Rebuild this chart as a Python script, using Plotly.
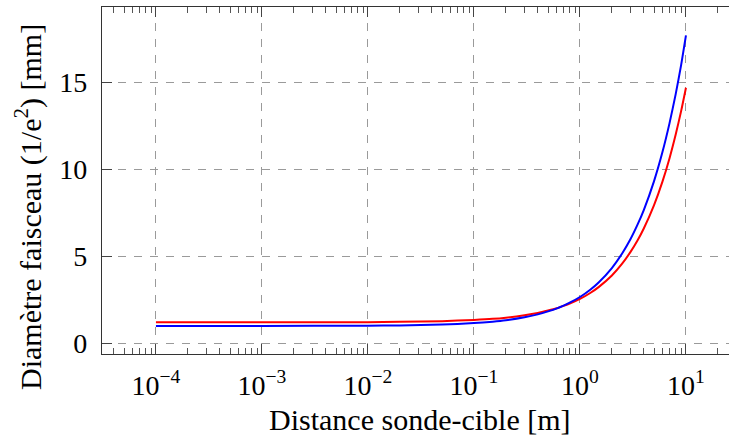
import plotly.graph_objects as go

# Distance sonde-cible [m]
distance = [1e-4, 1e-3, 1e-2, 0.02, 0.05, 0.1, 0.15, 0.2, 0.3, 0.4, 0.5, 0.6, 0.7, 0.8,
            1.0, 1.25, 1.5, 2.0, 2.5, 3.0, 3.5, 4.0, 5.0, 6.0, 7.0, 8.0, 9.0, 10.0]
# Beam diameter (1/e^2) [mm]
diam_blue = [0.98, 0.98, 1.00, 1.01, 1.06, 1.15, 1.23, 1.31, 1.48, 1.65, 1.82, 1.98, 2.15, 2.32,
             2.65, 3.07, 3.49, 4.32, 5.16, 5.99, 6.83, 7.66, 9.33, 11.00, 12.67, 14.34, 16.01, 17.72]
diam_red = [1.19, 1.19, 1.20, 1.22, 1.26, 1.33, 1.39, 1.46, 1.60, 1.73, 1.87, 2.00, 2.14, 2.27,
            2.54, 2.88, 3.22, 3.89, 4.57, 5.25, 5.92, 6.60, 7.95, 9.30, 10.65, 12.01, 13.36, 14.71]

x_tickvals = [1e-4, 1e-3, 1e-2, 1e-1, 1, 10]
x_ticktext = ["10<sup>\u22124</sup>", "10<sup>\u22123</sup>", "10<sup>\u22122</sup>",
              "10<sup>\u22121</sup>", "10<sup>0</sup>", "10<sup>1</sup>"]
y_tickvals = [0, 5, 10, 15]

FONT = "'Liberation Serif', 'Times New Roman', 'DejaVu Serif', serif"

fig = go.Figure()
fig.add_trace(go.Scatter(x=distance, y=diam_red, mode="lines",
                         line=dict(color="#ff0000", width=2, shape="spline", smoothing=0.6),
                         showlegend=False))
fig.add_trace(go.Scatter(x=distance, y=diam_blue, mode="lines",
                         line=dict(color="#0000ff", width=2, shape="spline", smoothing=0.6),
                         showlegend=False))

fig.update_layout(
    width=729, height=442,
    margin=dict(l=102, r=0, t=7, b=88, autoexpand=False),
    paper_bgcolor="white", plot_bgcolor="white",
    font=dict(family=FONT, size=28, color="black"),
    xaxis=dict(
        type="log", range=[-4.509, 1.406], automargin=False,
        tickmode="array", tickvals=x_tickvals, ticktext=x_ticktext,
        ticks="inside", ticklen=10, tickwidth=1, tickcolor="#444",
        showline=True, linecolor="#333", linewidth=1.2, mirror="allticks",
        showgrid=True, gridcolor="#9a9a9a", gridwidth=1, griddash="8px,8px",
        zeroline=False,
        minor=dict(dtick="D1", ticks="inside", ticklen=6, tickwidth=1, tickcolor="#555",
                   showgrid=False),
        tickfont=dict(family=FONT, size=28),
        ticklabelstandoff=6,
    ),
    yaxis=dict(
        range=[-0.634, 19.36], automargin=False,
        tickmode="array", tickvals=y_tickvals,
        ticks="inside", ticklen=10, tickwidth=1, tickcolor="#444",
        showline=True, linecolor="#333", linewidth=1.2, mirror=False,
        showgrid=True, gridcolor="#9a9a9a", gridwidth=1, griddash="8px,8px",
        zeroline=False,
        tickfont=dict(family=FONT, size=28),
        ticklabelstandoff=8,
    ),
    annotations=[
        dict(text="Distance sonde-cible [m]", xref="paper", yref="paper",
             x=0.507, y=-0.19, xanchor="center", yanchor="middle", showarrow=False,
             font=dict(family=FONT, size=30)),
        dict(text="Diam\u00e8tre faisceau (1/e<sup>2</sup>) [mm]", xref="paper", yref="paper",
             x=-0.118, y=0.4236, xanchor="center", yanchor="middle", showarrow=False,
             textangle=-90, font=dict(family=FONT, size=30)),
    ],
)

fig.write_html("out.html",
               config={"displayModeBar": False},
               post_script="document.body.style.margin='0px';document.body.style.padding='0px';")
